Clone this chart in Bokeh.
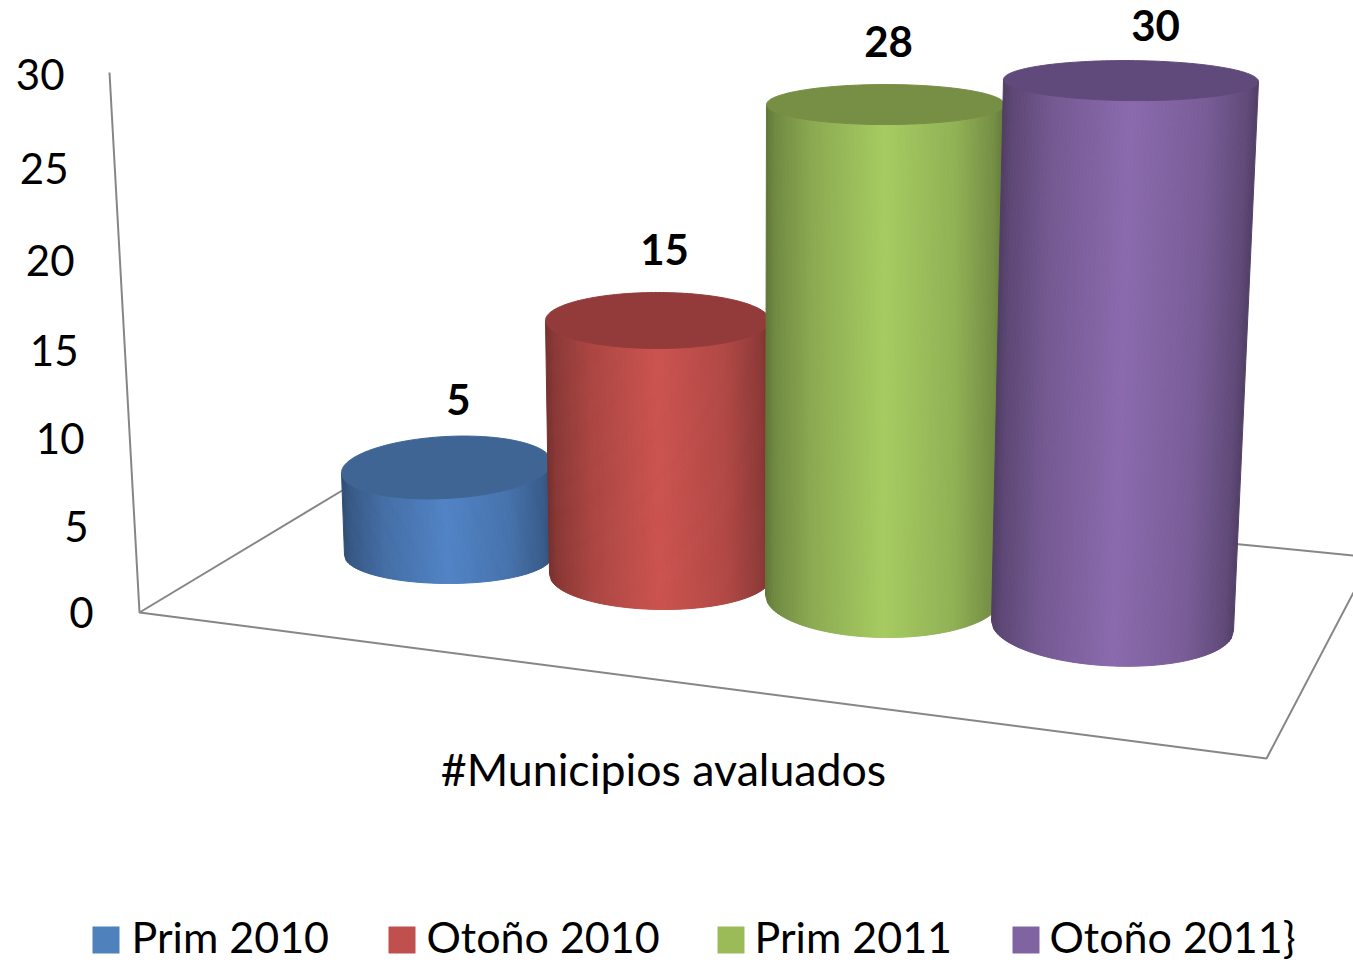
import numpy as np
from bokeh.plotting import figure
from bokeh.embed import file_html
from bokeh.resources import INLINE
from bokeh.core.properties import value

# data
series = ["Prim 2010", "Otoño 2010", "Prim 2011", "Otoño 2011}"]
values = [5, 15, 28, 30]
category = "#Municipios avaluados"
tick_labels = ["0", "5", "10", "15", "20", "25", "30"]

# colours
colors_light = ["#5284c6", "#cc5450", "#a7cc62", "#8b6bae"]
colors_top = ["#3e6594", "#933b3a", "#768f44", "#604a7b"]
colors_legend = ["#4f81bd", "#c0504d", "#9bbb59", "#8064a2"]
axis_color = "#868686"
FONT = "Lato"

# 3D layout: bottom ellipse, top ellipse and pixels per unit for each cylinder
base_cx = [448, 660, 883, 1112]
base_cy = [555, 575, 596, 625.5]
base_a = [104, 111, 118, 121]
base_b = [28, 34, 41, 40]
base_tilt = [0.0, 0.01, 0.012, 0.04]
top_cx = [446, 657, 885, 1130.5]
top_a = [105, 112, 119, 127.5]
top_b = [31, 28, 20, 20]
top_tilt = [-0.05, 0.0, 0.0, 0.008]
unit_px = [17.6, 17.0, 17.57, 18.18]

tick_right = [93, 88, 84, 78, 74, 68, 64]
tick_base = [612, 526, 438, 350, 260, 168, 74]
label_x = [458, 664, 888, 1155]
label_base = [399, 249, 41, 25]
legend_box_x = [92, 388, 717, 1012]
legend_text_x = [131, 426, 754, 1049]

p = figure(width=1353, height=963, x_range=(0, 1353), y_range=(963, 0),
           output_backend="svg", toolbar_location=None,
           x_axis_location=None, y_axis_location=None,
           min_border=0, outline_line_color=None, background_fill_color="white")
p.grid.visible = False

# walls and floor
p.line([109, 139, 1266, 1353], [72, 612, 758, 592], line_color=axis_color, line_width=2)
p.line([139, 345], [612, 488], line_color=axis_color, line_width=2)
p.line([1230, 1353], [543, 555], line_color=axis_color, line_width=2)


def shade(hex_color, t):
    stops_t = [0, 0.04, 0.2, 0.5, 0.8, 0.96, 1]
    stops_f = [0.58, 0.68, 0.84, 1.0, 0.87, 0.7, 0.6]
    f = np.interp(t, stops_t, stops_f)
    rgb = [int(hex_color[i:i + 2], 16) for i in (1, 3, 5)]
    return "#%02x%02x%02x" % tuple(int(c * f) for c in rgb)


N = 110
for i, v in enumerate(values):
    cy_top = base_cy[i] - v * unit_px[i]
    ts = np.linspace(0, 1, N + 1)
    us = 2 * ts - 1
    def front(cx, cy, a, b, tilt):
        xs = cx + a * us
        ys = cy + tilt * a * us + b * np.sqrt(np.clip(1 - us ** 2, 0, 1))
        return xs, ys
    xt, yt = front(top_cx[i], cy_top, top_a[i], top_b[i], top_tilt[i])
    xb, yb = front(base_cx[i], base_cy[i], base_a[i], base_b[i], base_tilt[i])
    px, py, pc = [], [], []
    for k in range(N):
        px.append([xt[k], xt[k + 1], xb[k + 1], xb[k]])
        py.append([yt[k], yt[k + 1], yb[k + 1], yb[k]])
        pc.append(shade(colors_light[i], (ts[k] + ts[k + 1]) / 2))
    p.patches(px, py, fill_color=pc, line_color=pc, line_width=1)
    th = np.linspace(0, 2 * np.pi, 181)
    ex = top_cx[i] + top_a[i] * np.cos(th)
    ey = cy_top + top_tilt[i] * top_a[i] * np.cos(th) + top_b[i] * np.sin(th)
    p.patch(ex, ey, fill_color=colors_top[i], line_color=colors_top[i], line_width=1)

# tick labels
p.text(tick_right, tick_base, text=tick_labels, text_font=value(FONT), text_font_size="42px",
       text_color="#000000", text_align="right", text_baseline="middle")
# data labels
p.text(label_x, label_base, text=[str(v) for v in values], text_font=value(FONT),
       text_font_size="42px", text_font_style="bold", text_color="#000000",
       text_align="center", text_baseline="middle")
# category
p.text([663], [768], text=[category], text_font=value(FONT), text_font_size="44.7px",
       text_color="#000000", text_align="center", text_baseline="middle")
# legend
p.quad(left=legend_box_x, right=[x + 27 for x in legend_box_x], top=[926] * 4, bottom=[953] * 4,
       fill_color=colors_legend, line_color=None)
p.text(legend_text_x, [936] * 4, text=series, text_font=value(FONT), text_font_size="43px",
       text_color="#000000", text_align="left", text_baseline="middle")

open("out.html", "w").write(file_html(p, INLINE))
